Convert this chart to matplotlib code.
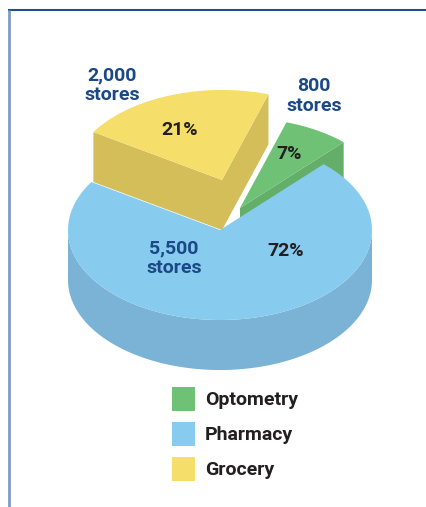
import numpy as np
import matplotlib
matplotlib.use('Agg')
import matplotlib.pyplot as plt
from matplotlib.patches import Polygon, Rectangle

# data
labels = ['Optometry', 'Grocery', 'Pharmacy']
share = [7, 21, 72]
stores = ['800', '2,000', '5,500']
legend_order = ['Optometry', 'Pharmacy', 'Grocery']

top_col = {'Optometry': '#6fc176', 'Grocery': '#f5de6a', 'Pharmacy': '#87cbef'}
side_col = {'Optometry': '#63ae69', 'Grocery': '#d3be5a', 'Pharmacy': '#7ab3d6'}
navy = '#1b4886'
dark = '#231f20'

plt.rcParams['font.family'] = ['Roboto', 'DejaVu Sans']

fig = plt.figure(figsize=(4.27, 5.07), dpi=100)
ax = fig.add_axes([0, 0, 1, 1])
ax.set_xlim(0, 427)
ax.set_ylim(507, 0)
ax.axis('off')

# pie geometry (pixel space)
cx, cy = 220, 230
rx, ry = 152, 90
depth = 50
start = 47
offsets = {'Optometry': (20, -22), 'Grocery': (2, -50), 'Pharmacy': (0, 0)}

def pt(ox, oy, t, dz=0):
    r = np.radians(t)
    return (cx + ox + rx * np.cos(r), cy + oy - ry * np.sin(r) + dz)

angles = {}
a = start
for lab, v in zip(labels, share):
    span = 360 * v / sum(share)
    angles[lab] = (a, a + span)
    a += span

def draw_slice(lab):
    t0, t1 = angles[lab]
    ox, oy = offsets[lab]
    apex = (cx + ox, cy + oy)
    # radial cut faces that face the viewer
    for t, sgn in ((t0, -1), (t1, 1)):
        if np.sin(np.radians(t + sgn * 90)) < 0:
            p = pt(ox, oy, t)
            quad = [apex, p, (p[0], p[1] + depth), (apex[0], apex[1] + depth)]
            ax.add_patch(Polygon(quad, closed=True, fc=side_col[lab], ec='none'))
    # outer wall, front half only
    ts = np.linspace(t0, t1, 400)
    tf = ts[np.sin(np.radians(ts)) <= 0]
    if len(tf):
        upper = [pt(ox, oy, t) for t in tf]
        lower = [pt(ox, oy, t, depth) for t in tf[::-1]]
        ax.add_patch(Polygon(upper + lower, closed=True, fc=side_col[lab], ec='none'))
    # top face
    top = [apex] + [pt(ox, oy, t) for t in ts]
    ax.add_patch(Polygon(top, closed=True, fc=top_col[lab], ec='none'))

for lab in ['Grocery', 'Optometry', 'Pharmacy']:
    draw_slice(lab)

# labels
fs = 14
kw = dict(ha='center', va='center', fontsize=fs, fontweight='bold')
ax.text(112, 85, stores[1] + '\nstores', color=navy, linespacing=1.15, **kw)
ax.text(314, 96, stores[0] + '\nstores', color=navy, linespacing=1.15, **kw)
ax.text(174, 258, stores[2] + '\nstores', color=navy, linespacing=1.15, **kw)
ax.text(180, 130, f'{share[1]}%', color=dark, **kw)
ax.text(289, 154, f'{share[0]}%', color=dark, **kw)
ax.text(286, 251, f'{share[2]}%', color=dark, **kw)

# legend
for i, lab in enumerate(legend_order):
    y = 387 + i * 35
    ax.add_patch(Rectangle((172, y), 23, 24, fc=top_col[lab], ec='none'))
    ax.text(205, y + 13, lab, ha='left', va='center', color=dark,
            fontsize=fs, fontweight='bold')

# frame lines
ax.plot([8, 427], [10, 10], color='#1f4f8f', lw=1.5, solid_capstyle='butt')
ax.plot([9, 9], [10, 507], color='#7d9cc4', lw=2, solid_capstyle='butt')

fig.savefig('out.png', dpi=100)
